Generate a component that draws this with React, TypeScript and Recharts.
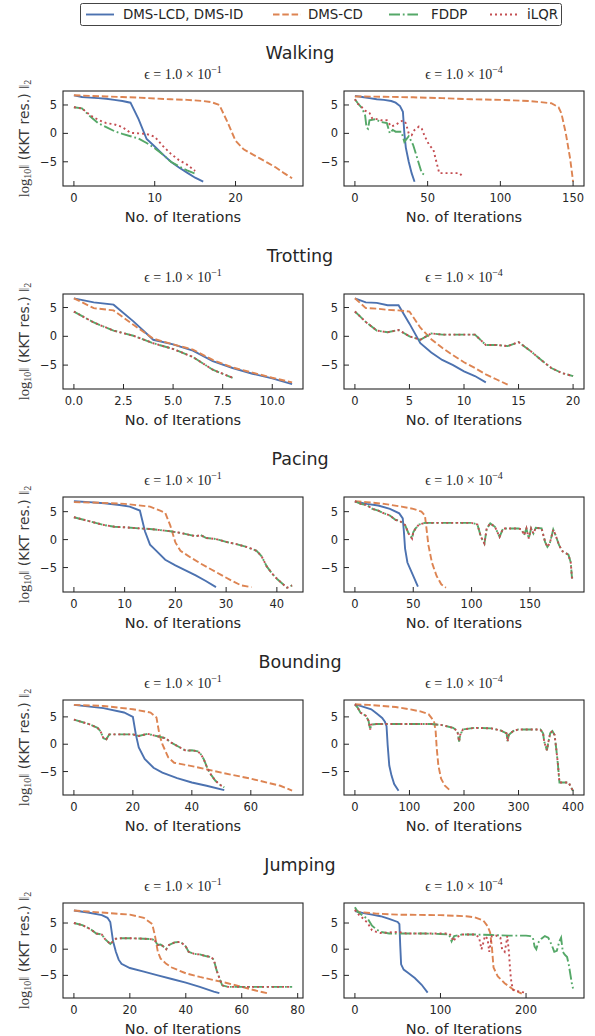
import React from "react";
import { LineChart, Line, XAxis, YAxis } from "recharts";

type Pt = [number, number];

// ---- Walking ----
const walk1Lcd: Pt[] = [[0, 6.7], [1, 6.4], [2, 6.3], [3, 6.2], [4, 6.1], [5, 5.9], [6, 5.7], [7, 5.4], [8, 2.5], [9, -1.0], [10, -2.3], [11, -3.7], [12, -5.0], [13, -6.0], [14, -6.9], [15, -7.8], [16, -8.5]];
const walk1Cd: Pt[] = [[0, 6.7], [2, 6.6], [4, 6.5], [6, 6.4], [8, 6.3], [10, 6.15], [12, 6.0], [14, 5.9], [16, 5.7], [17, 5.5], [18, 5.0], [19, 2.0], [20, -1.3], [21, -2.8], [22, -3.6], [23, -4.4], [24, -5.2], [25, -6.0], [26, -7.0], [27, -7.9]];
const walk1Fddp: Pt[] = [[0, 4.6], [1, 4.4], [2, 3.0], [3, 1.8], [4, 1.1], [5, 0.4], [6, -0.1], [7, -0.5], [8, -0.9], [9, -1.7], [10, -2.6], [11, -3.7], [12, -5.0], [13, -5.8], [14, -6.5], [15, -7.1]];
const walk1Ilqr: Pt[] = [[0, 4.6], [1, 4.4], [2, 3.2], [3, 2.4], [4, 1.8], [5, 1.6], [6, 1.1], [7, 0.1], [8, 0.0], [9, -0.1], [10, -0.6], [11, -2.2], [12, -3.6], [13, -4.7], [14, -5.5], [15, -6.6]];
const walk4Lcd: Pt[] = [[0, 6.6], [5, 6.4], [10, 6.2], [15, 6.0], [20, 5.9], [25, 5.7], [28, 5.4], [31, 4.8], [33, 3.8], [34, 0.0], [35, -2.5], [37, -5.0], [39, -7.0], [41, -8.5]];
const walk4Cd: Pt[] = [[0, 6.5], [20, 6.45], [40, 6.35], [60, 6.2], [80, 6.0], [100, 5.9], [120, 5.7], [135, 5.3], [140, 4.6], [142, 3.5], [145, 0.0], [148, -4.5], [150, -8.5]];
const walk4Fddp: Pt[] = [[0, 6.0], [2, 5.3], [5, 4.4], [7, 3.2], [8, 1.0], [9, 0.8], [10, 2.3], [14, 2.5], [18, 2.0], [22, 1.8], [24, 0.0], [26, 0.6], [28, 0.3], [32, 0.3], [34, -1.5], [37, -0.5], [40, -2.0], [43, -4.5], [46, -7.0], [49, -7.5]];
const walk4Ilqr: Pt[] = [[0, 6.0], [2, 5.2], [4, 4.8], [7, 4.0], [10, 3.6], [12, 2.6], [15, 2.5], [18, 2.3], [22, 2.3], [25, 1.2], [28, 1.5], [31, 2.0], [33, 2.3], [35, 1.8], [37, 0.0], [39, -0.3], [41, 0.6], [44, 1.2], [46, 0.8], [48, -0.5], [51, -2.0], [54, -2.9], [56, -5.0], [58, -7.0], [65, -7.0], [72, -7.0], [74, -7.6]];

// ---- Trotting ----
const trot1Lcd: Pt[] = [[0, 6.6], [1, 5.9], [2, 5.5], [3, 2.6], [4, -0.6], [5, -1.4], [6, -2.5], [7, -4.3], [8, -5.5], [9, -6.5], [10, -7.3], [11, -8.3]];
const trot1Cd: Pt[] = [[0, 6.6], [1, 4.9], [2, 4.5], [3, 2.0], [4, -0.4], [5, -1.4], [6, -2.3], [7, -4.1], [8, -5.4], [9, -6.3], [10, -7.2], [11, -8.0]];
// FDDP and iLQR coincide here
const trot1Fddp: Pt[] = [[0, 4.3], [1, 2.4], [2, 1.0], [3, 0.1], [4, -1.2], [5, -2.2], [6, -3.6], [7, -5.8], [8, -7.2]];
const trot4Lcd: Pt[] = [[0, 6.6], [1, 5.9], [2, 5.8], [3, 5.4], [4, 5.4], [5, 2.2], [6, -1.2], [7, -2.8], [8, -4.1], [9, -5.0], [10, -6.1], [11, -6.9], [12, -8.0]];
const trot4Cd: Pt[] = [[0, 6.6], [1, 4.9], [2, 4.8], [3, 4.6], [4, 4.5], [5, 4.3], [6, 1.5], [7, -0.5], [8, -2.0], [9, -3.3], [10, -4.5], [11, -5.5], [12, -6.6], [13, -7.5], [14, -8.4]];
const trot4Fddp: Pt[] = [[0, 4.3], [1, 2.5], [2, 1.0], [3, 0.7], [4, 1.1], [5, 0.0], [6, -0.6], [7, 0.5], [8, 0.3], [9, 0.3], [10, 0.3], [11, 0.3], [12, -1.5], [13, -1.5], [14, -1.7], [15, -1.0], [16, -2.4], [17, -4.0], [18, -5.5], [19, -6.4], [20, -6.9]];

// ---- Pacing ----
const pace1Lcd: Pt[] = [[0, 6.85], [3, 6.7], [6, 6.5], [9, 6.2], [11, 5.9], [13, 5.2], [14, 1.5], [15, -0.9], [16, -1.8], [18, -3.6], [20, -4.6], [22, -5.5], [24, -6.4], [26, -7.4], [28, -8.5]];
const pace1Cd: Pt[] = [[0, 6.7], [5, 6.6], [10, 6.4], [15, 5.9], [17, 5.2], [18, 4.8], [19, 2.5], [20, -0.5], [21, -2.0], [23, -3.2], [25, -4.3], [27, -5.3], [29, -6.3], [31, -7.3], [33, -8.2], [35, -8.5]];
const pace1Fddp: Pt[] = [[0, 4.0], [3, 3.3], [6, 2.6], [8, 2.3], [10, 2.2], [13, 2.0], [15, 1.9], [17, 1.7], [19, 1.5], [21, 1.2], [23, 0.8], [24, 0.6], [25, 0.8], [26, 0.3], [28, 0.1], [30, -0.4], [32, -0.8], [34, -1.3], [36, -2.0], [37, -3.0], [38, -4.8], [39, -6.0], [40, -7.0], [41, -7.8], [42, -8.6], [43, -8.2]];
const pace4Lcd: Pt[] = [[0, 6.85], [10, 6.4], [20, 6.1], [30, 5.5], [38, 4.7], [41, 3.8], [42, 1.4], [43, -1.6], [45, -4.1], [50, -6.5], [54, -8.4]];
const pace4Cd: Pt[] = [[0, 6.85], [10, 6.7], [25, 6.4], [40, 5.9], [50, 5.5], [57, 5.0], [60, 4.3], [61, 2.6], [63, -1.0], [66, -4.1], [70, -6.5], [74, -8.0], [78, -8.6]];
const pace4Fddp: Pt[] = [[0, 6.85], [5, 6.4], [10, 6.2], [15, 5.5], [20, 5.2], [25, 4.7], [30, 4.3], [35, 3.5], [38, 3.4], [40, 3.1], [43, 2.6], [46, 1.1], [49, 0.2], [50, 1.3], [52, 2.0], [55, 2.7], [60, 3.0], [80, 3.0], [100, 3.0], [105, 2.7], [108, 0.5], [111, -0.7], [113, 2.0], [116, 2.9], [120, 2.3], [124, 0.5], [127, 2.0], [130, 2.0], [140, 2.0], [143, 1.8], [145, 0.8], [147, 2.0], [149, 0.2], [151, 2.0], [153, 1.1], [155, 2.1], [160, 2.0], [163, -0.4], [165, -1.3], [167, -0.7], [170, 1.8], [172, 0.8], [175, -1.0], [178, -2.1], [183, -2.7], [185, -4.1], [186, -6.8], [187, -6.8]];

// ---- Bounding ----
const bound1Lcd: Pt[] = [[0, 7.2], [10, 6.6], [17, 5.8], [20, 5.0], [21, 1.8], [22, -0.6], [24, -2.7], [27, -4.3], [30, -5.2], [35, -6.2], [40, -7.0], [45, -7.6], [51, -8.4]];
const bound1Cd: Pt[] = [[0, 7.2], [10, 7.0], [20, 6.4], [26, 5.8], [28, 4.9], [29, 1.8], [30, 0.0], [32, -2.4], [34, -3.4], [40, -4.0], [50, -5.2], [60, -6.3], [70, -7.6], [74, -8.5]];
const bound1Fddp: Pt[] = [[0, 4.5], [5, 3.7], [8, 3.0], [9, 2.4], [10, 1.1], [11, 0.9], [12, 1.8], [15, 1.8], [20, 1.8], [22, 1.5], [25, 1.9], [28, 1.5], [31, 1.1], [33, 0.3], [36, -0.6], [38, -1.2], [40, -1.1], [42, -1.3], [43, -1.8], [44, -2.7], [45, -4.0], [46, -5.2], [48, -6.7], [50, -7.6], [51, -7.9]];
const bound4Lcd: Pt[] = [[0, 7.3], [10, 7.0], [20, 6.7], [30, 6.4], [40, 5.6], [50, 4.8], [55, 4.1], [58, 3.3], [60, -0.1], [63, -3.9], [67, -5.7], [72, -7.3], [80, -8.5]];
const bound4Cd: Pt[] = [[0, 7.3], [25, 7.2], [50, 7.0], [75, 6.8], [100, 6.4], [120, 6.0], [135, 5.5], [145, 4.2], [148, 2.4], [150, -0.7], [153, -3.9], [158, -6.3], [165, -7.6], [175, -8.5]];
const bound4Fddp: Pt[] = [[0, 7.3], [5, 6.7], [10, 5.8], [20, 5.2], [25, 4.3], [28, 2.7], [30, 3.6], [40, 3.7], [100, 3.7], [140, 3.7], [160, 3.5], [180, 3.0], [188, 2.4], [191, 0.5], [193, 1.7], [198, 2.7], [220, 3.0], [250, 2.9], [268, 2.5], [278, 2.0], [280, 0.5], [282, 1.7], [290, 2.4], [300, 2.7], [340, 2.7], [345, 2.0], [347, 0.5], [352, -1.1], [355, 0.5], [358, 2.0], [362, 2.4], [366, 1.7], [369, -0.7], [372, -3.5], [375, -7.0], [385, -7.0], [392, -7.0], [396, -7.9], [400, -8.5]];

// ---- Jumping ----
const jump1Lcd: Pt[] = [[0, 7.4], [5, 7.0], [10, 6.5], [12, 6.0], [13, 5.2], [14, 1.5], [15, -0.5], [16, -2.0], [17, -2.8], [20, -3.6], [25, -4.3], [30, -5.0], [35, -5.7], [40, -6.4], [45, -7.2], [50, -8.1], [52, -8.4]];
const jump1Cd: Pt[] = [[0, 7.4], [5, 7.2], [10, 7.0], [20, 6.6], [25, 6.0], [28, 4.8], [29, 2.5], [30, -0.5], [31, -1.8], [33, -2.8], [35, -3.5], [40, -4.6], [45, -5.3], [50, -5.9], [55, -6.5], [60, -7.2], [65, -7.9], [69, -8.4]];
const jump1Fddp: Pt[] = [[0, 5.0], [3, 4.6], [6, 3.8], [8, 3.0], [10, 2.8], [11, 2.0], [12, 1.5], [13, 1.0], [14, 1.5], [15, 2.0], [17, 2.1], [20, 2.1], [25, 2.0], [28, 1.9], [29, 1.6], [30, 0.8], [31, 0.9], [32, 0.5], [33, 0.0], [34, 0.8], [36, 1.3], [38, 1.4], [39, 1.0], [40, 0.5], [41, -0.5], [43, -0.9], [45, -1.0], [47, -1.3], [49, -1.5], [50, -2.0], [51, -4.0], [52, -5.5], [53, -6.9], [55, -7.2], [60, -7.2], [70, -7.2], [78, -7.2]];
const jump4Lcd: Pt[] = [[0, 7.3], [10, 6.9], [20, 6.6], [30, 6.3], [40, 5.8], [50, 5.2], [52, 4.8], [53, 0.6], [54, -2.9], [57, -3.9], [62, -4.5], [70, -5.5], [78, -6.8], [85, -8.3]];
const jump4Cd: Pt[] = [[0, 7.6], [5, 7.1], [25, 6.8], [50, 6.6], [100, 6.5], [130, 6.3], [140, 6.1], [150, 5.5], [155, 4.4], [158, 3.2], [160, 0.6], [162, -3.5], [167, -5.2], [175, -6.5], [185, -7.7], [195, -8.5]];
const jump4Fddp: Pt[] = [[0, 8.0], [3, 7.2], [10, 6.3], [15, 5.8], [20, 4.5], [25, 3.8], [30, 3.3], [40, 3.0], [60, 3.0], [80, 3.0], [100, 2.9], [110, 2.8], [113, 1.5], [116, 2.5], [125, 2.8], [140, 2.8], [160, 2.7], [180, 2.6], [200, 2.6], [205, 2.5], [208, 2.2], [210, 0.5], [212, 0.0], [214, 1.2], [218, 2.0], [222, 2.5], [226, 2.2], [230, 0.8], [233, -0.5], [236, -0.3], [239, 1.5], [241, 2.2], [243, -0.5], [245, -1.0], [248, -1.5], [250, -3.0], [252, -5.0], [254, -7.0], [255, -7.5]];
const jump4Ilqr: Pt[] = [[0, 7.5], [5, 6.5], [10, 5.8], [15, 5.0], [20, 3.6], [25, 3.3], [30, 3.1], [50, 3.3], [60, 3.0], [80, 3.0], [100, 3.0], [110, 3.0], [113, 2.5], [115, 1.5], [118, 2.2], [125, 2.8], [140, 2.8], [145, 2.3], [148, 0.0], [150, 1.2], [152, 2.5], [155, 2.0], [157, -0.5], [160, 2.5], [165, 2.6], [170, 2.2], [172, 0.0], [175, -0.5], [177, 1.2], [178, 2.5], [180, -0.5], [181, -3.0], [182, -5.0], [183, -6.5], [185, -7.8], [190, -8.0], [195, -8.2], [200, -8.3]];

// ---- ticks ----
const walkTicks1 = [0, 10, 20];
const walkTicks4 = [0, 50, 100, 150];
const trotTicks1 = [0, 2.5, 5, 7.5, 10];
const trotTicks4 = [0, 5, 10, 15, 20];
const paceTicks1 = [0, 10, 20, 30, 40];
const paceTicks4 = [0, 50, 100, 150];
const boundTicks1 = [0, 20, 40, 60];
const boundTicks4 = [0, 100, 200, 300, 400];
const jumpTicks1 = [0, 20, 40, 60, 80];
const jumpTicks4 = [0, 100, 200];
const yTicks = [-5, 0, 5];

const legendNames = ["DMS-LCD, DMS-ID", "DMS-CD", "FDDP", "iLQR"];

const COLORS = ["#4C72B0", "#DD8452", "#55A868", "#C44E52"];
const DASHES = [undefined, "6.5 2.8", "11 2.8 1.8 2.8", "2 3"];
const INK = "#262626";
const SANS = "'DejaVu Sans', sans-serif";
const SERIF = "'Liberation Serif', 'DejaVu Serif', serif";

type PanelDef = { series: Pt[][]; ticks: number[]; fmt?: (v: number) => string; eps: string };
type RowDef = { title: string; top: number; panels: PanelDef[] };

const rows: RowDef[] = [
  { title: "Walking", top: 91, panels: [
    { series: [walk1Lcd, walk1Cd, walk1Fddp, walk1Ilqr], ticks: walkTicks1, eps: "1" },
    { series: [walk4Lcd, walk4Cd, walk4Fddp, walk4Ilqr], ticks: walkTicks4, eps: "4" },
  ] },
  { title: "Trotting", top: 294, panels: [
    { series: [trot1Lcd, trot1Cd, trot1Fddp, trot1Fddp], ticks: trotTicks1, fmt: (v) => v.toFixed(1), eps: "1" },
    { series: [trot4Lcd, trot4Cd, trot4Fddp, trot4Fddp], ticks: trotTicks4, eps: "4" },
  ] },
  { title: "Pacing", top: 497, panels: [
    { series: [pace1Lcd, pace1Cd, pace1Fddp, pace1Fddp], ticks: paceTicks1, eps: "1" },
    { series: [pace4Lcd, pace4Cd, pace4Fddp, pace4Fddp], ticks: paceTicks4, eps: "4" },
  ] },
  { title: "Bounding", top: 700, panels: [
    { series: [bound1Lcd, bound1Cd, bound1Fddp, bound1Fddp], ticks: boundTicks1, eps: "1" },
    { series: [bound4Lcd, bound4Cd, bound4Fddp, bound4Fddp], ticks: boundTicks4, eps: "4" },
  ] },
  { title: "Jumping", top: 903, panels: [
    { series: [jump1Lcd, jump1Cd, jump1Fddp, jump1Fddp], ticks: jumpTicks1, eps: "1" },
    { series: [jump4Lcd, jump4Cd, jump4Fddp, jump4Ilqr], ticks: jumpTicks4, eps: "4" },
  ] },
];

const PLOT_W = 240;
const PLOT_H = 95;
const PLOT_LEFT = [63, 344];
const CHART_LEFT = [0, 300];
const CHART_W = [310, 290];

// matplotlib-style 5% margins
const pad = (vals: number[]): [number, number] => {
  const lo = Math.min(...vals);
  const hi = Math.max(...vals);
  const r = hi - lo;
  return [lo - 0.05 * r, hi + 0.05 * r];
};

const fmtY = (v: number) => (v < 0 ? `\u2212${-v}` : `${v}`);

const XTick = (props: any) => {
  const { x, y, payload, fmt } = props;
  const f = fmt || ((v: number) => `${v}`);
  return (
    <g>
      <line x1={x} x2={x} y1={y} y2={y - 5} stroke={INK} strokeWidth={1} />
      <text x={x} y={y + 12} textAnchor="middle" dominantBaseline="central" fontFamily={SANS} fontSize={11.5} fill={INK}>
        {f(payload.value)}
      </text>
    </g>
  );
};

const YTick = (props: any) => {
  const { x, y, payload } = props;
  return (
    <g>
      <line x1={x} x2={x + 5} y1={y} y2={y} stroke={INK} strokeWidth={1} />
      <text x={x - 6} y={y} textAnchor="end" dominantBaseline="central" fontFamily={SANS} fontSize={11.5} fill={INK}>
        {fmtY(payload.value)}
      </text>
    </g>
  );
};

function Panel({ p, col, top, yDom }: { p: PanelDef; col: number; top: number; yDom: [number, number] }) {
  const xDom = pad(p.series.flat().map((d) => d[0]));
  const W = CHART_W[col];
  const leftM = PLOT_LEFT[col] - CHART_LEFT[col] - 40;
  const rightM = W - (PLOT_LEFT[col] - CHART_LEFT[col]) - PLOT_W;
  return (
    <div style={{ position: "absolute", left: CHART_LEFT[col], top: top - 5 }}>
      <LineChart width={W} height={5 + PLOT_H + 20} margin={{ top: 5, right: rightM, bottom: 0, left: leftM }}>
        <XAxis
          type="number"
          dataKey="x"
          domain={xDom}
          ticks={p.ticks}
          interval={0}
          allowDataOverflow
          axisLine={false}
          tickLine={false}
          tickSize={0}
          tickMargin={0}
          height={20}
          tick={(t: any) => <XTick {...t} fmt={p.fmt} />}
        />
        <YAxis
          type="number"
          domain={yDom}
          ticks={yTicks}
          interval={0}
          allowDataOverflow
          axisLine={false}
          tickLine={false}
          tickSize={0}
          tickMargin={0}
          width={40}
          tick={(t: any) => <YTick {...t} />}
        />
        {p.series.map((s, i) => (
          <Line
            key={i}
            data={s.map(([x, y]) => ({ x, y }))}
            dataKey="y"
            type="linear"
            stroke={COLORS[i]}
            strokeWidth={1.9}
            strokeDasharray={DASHES[i]}
            dot={false}
            activeDot={false}
            isAnimationActive={false}
          />
        ))}
      </LineChart>
    </div>
  );
}

const legendX = [[86, 114, 123], [273, 301, 308], [389, 418, 431], [490, 519, 527]];

export default function App() {
  return (
    <div style={{ position: "absolute", left: 0, top: 0, width: 595, height: 1036, background: "#fff", fontFamily: SANS }}>
      {rows.map((r) => {
        const yDom = pad(r.panels.flatMap((p) => p.series.flat().map((d) => d[1])));
        return r.panels.map((p, col) => <Panel key={r.title + col} p={p} col={col} top={r.top} yDom={yDom} />);
      })}
      <svg width={595} height={1036} style={{ position: "absolute", left: 0, top: 0, pointerEvents: "none" }}>
        {/* legend */}
        <rect x={80.5} y={3.5} width={481} height={22} rx={2} fill="#fff" stroke="#444" strokeWidth={1} />
        {legendNames.map((n, i) => (
          <g key={n}>
            <line x1={legendX[i][0]} x2={legendX[i][1]} y1={14.5} y2={14.5} stroke={COLORS[i]} strokeWidth={1.9} strokeDasharray={DASHES[i]} />
            <text x={legendX[i][2]} y={14.5} dominantBaseline="central" fontFamily={SANS} fontSize={13.4} fill={INK}>{n}</text>
          </g>
        ))}
        {rows.map((r) => (
          <g key={r.title}>
            <text x={300} y={r.top - 38} textAnchor="middle" dominantBaseline="central" fontFamily={SANS} fontSize={17.5} fill={INK}>{r.title}</text>
            <g transform={`translate(24, ${r.top + PLOT_H / 2}) rotate(-90)`}>
              <text x={0} y={0} textAnchor="middle" dominantBaseline="central" fontSize={14} fill="#3a3a3a">
                <tspan fontFamily={SERIF} fontSize={14.5}>log</tspan>
                <tspan fontFamily={SERIF} fontSize={10} dy={3}>10</tspan>
                <tspan fontFamily={SERIF} fontSize={14.5} dy={-3}>‖</tspan>
                <tspan fontFamily={SANS}> (KKT res.) </tspan>
                <tspan fontFamily={SERIF} fontSize={14.5}>‖</tspan>
                <tspan fontFamily={SERIF} fontSize={10} dy={3}>2</tspan>
              </text>
            </g>
            {r.panels.map((p, col) => {
              const cx = PLOT_LEFT[col] + PLOT_W / 2;
              return (
                <g key={col}>
                  <rect x={PLOT_LEFT[col]} y={r.top} width={PLOT_W} height={PLOT_H} fill="none" stroke={INK} strokeWidth={1.1} />
                  <text x={cx} y={r.top - 17} textAnchor="middle" dominantBaseline="central" fontFamily={SERIF} fontSize={14} fill={INK}>
                    {"\u03f5 = 1.0 \u00d7 10"}
                    <tspan fontSize={10} dy={-5}>{`\u2212${p.eps}`}</tspan>
                  </text>
                  <text x={cx} y={r.top + PLOT_H + 31} textAnchor="middle" dominantBaseline="central" fontFamily={SANS} fontSize={14.5} fill={INK}>
                    No. of Iterations
                  </text>
                </g>
              );
            })}
          </g>
        ))}
      </svg>
    </div>
  );
}
